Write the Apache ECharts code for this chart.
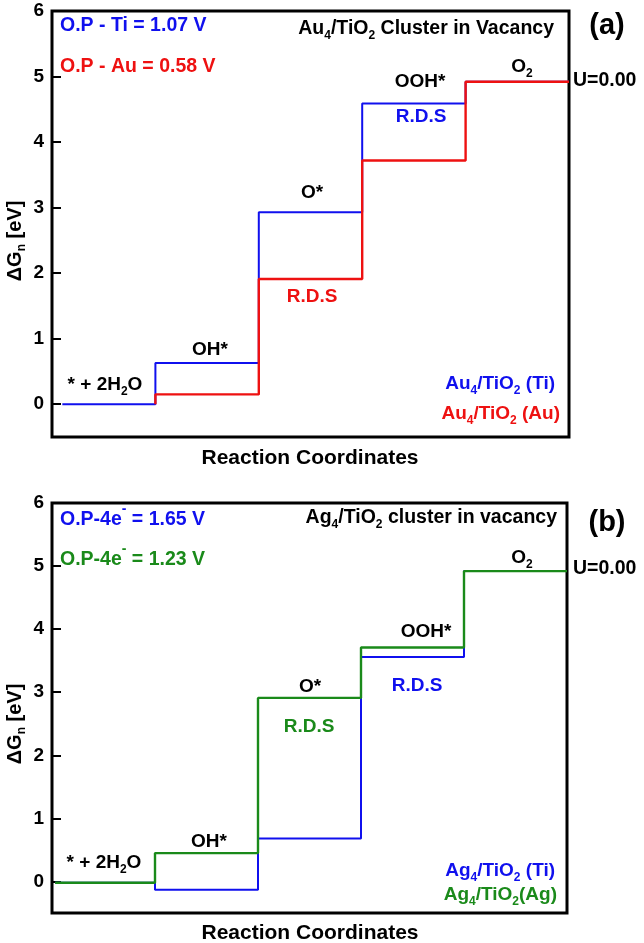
<!DOCTYPE html>
<html><head><meta charset="utf-8">
<script src="https://cdn.jsdelivr.net/npm/echarts@6/dist/echarts.min.js"></script>
<style>html,body{margin:0;padding:0;background:#fff}#c{width:644px;height:943px}</style>
</head><body><div id="c"></div>
<script>
// ---- data ----
const stepBoundsA = [0.1, 1, 2, 3, 4, 5];
const tiLevelsA = [0, 0.63, 2.93, 4.59, 4.92];
const auLevelsA = [0, 0.15, 1.91, 3.72, 4.92];
const stepBoundsB = [0.03, 1, 2, 3, 4, 5];
const tiLevelsB = [-0.02, -0.13, 0.68, 3.56, 4.92];
const agLevelsB = [-0.02, 0.45, 2.91, 3.71, 4.92];
const yTicks = [0, 1, 2, 3, 4, 5, 6];
const yMin = -0.5, yMax = 6;

const F = '"Liberation Sans", Arial, Helvetica, sans-serif';
const BLUE = '#1010EE', RED = '#EE1111', GREEN = '#1A8A1A', BLACK = '#000';

function ladder(bounds, levels, skipFirst) {
  const pts = [];
  levels.forEach((v, i) => {
    if (i === 0 && skipFirst) { pts.push([bounds[1], v]); return; }
    pts.push([bounds[i], v], [bounds[i + 1], v]);
  });
  return pts;
}

function rich(color, size) {
  size = size || 19;
  return {
    n: {fontSize: size, fontWeight: 'bold', fontFamily: F, fill: color, color: color, verticalAlign: 'middle'},
    s: {fontSize: 12, fontWeight: 'bold', fontFamily: F, fill: color, color: color, padding: [13, 0, 0, 0], verticalAlign: 'middle'},
    p: {fontSize: 14, fontWeight: 'bold', fontFamily: F, fill: color, color: color, padding: [0, 0, 22, 0], verticalAlign: 'middle'}
  };
}
function T(x, y, text, color, align, size, rotation) {
  return {
    type: 'text', x: x, y: y, rotation: rotation || 0, z: 100,
    style: {text: text, rich: rich(color, size), fill: color, align: align || 'center', verticalAlign: 'middle',
            fontSize: size || 19, fontWeight: 'bold', fontFamily: F}
  };
}

const texts = [
  // panel (a)
  T(60, 26, '{n|O.P - Ti = 1.07 V}', BLUE, 'left', 19.5),
  T(60, 67, '{n|O.P - Au = 0.58 V}', RED, 'left', 19.5),
  T(554, 29, '{n|Au}{s|4}{n|/TiO}{s|2}{n| Cluster in Vacancy}', BLACK, 'right', 19.5),
  T(607, 26, '{n|(a)}', BLACK, 'center', 29),
  T(573, 81, '{n|U=0.00}', BLACK, 'left', 19.5),
  T(522, 67, '{n|O}{s|2}', BLACK, 'center'),
  T(420, 82, '{n|OOH*}', BLACK, 'center'),
  T(421, 117, '{n|R.D.S}', BLUE, 'center'),
  T(312, 193, '{n|O*}', BLACK, 'center'),
  T(312, 297, '{n|R.D.S}', RED, 'center'),
  T(210, 350, '{n|OH*}', BLACK, 'center'),
  T(105, 385, '{n|* + 2H}{s|2}{n|O}', BLACK, 'center'),
  T(555, 384, '{n|Au}{s|4}{n|/TiO}{s|2}{n| (Ti)}', BLUE, 'right'),
  T(560, 414, '{n|Au}{s|4}{n|/TiO}{s|2}{n| (Au)}', RED, 'right'),
  T(310, 458, '{n|Reaction Coordinates}', BLACK, 'center', 21),
  T(15, 241, '{n|ΔG}{s|n}{n| [eV]}', BLACK, 'center', 20, Math.PI / 2),
  // panel (b)
  T(60, 520, '{n|O.P-4e}{p|-}{n| = 1.65 V}', BLUE, 'left', 19.5),
  T(60, 560, '{n|O.P-4e}{p|-}{n| = 1.23 V}', GREEN, 'left', 19.5),
  T(557, 518, '{n|Ag}{s|4}{n|/TiO}{s|2}{n| cluster in vacancy}', BLACK, 'right', 19.5),
  T(607, 523, '{n|(b)}', BLACK, 'center', 29),
  T(573, 569, '{n|U=0.00}', BLACK, 'left', 19.5),
  T(522, 558, '{n|O}{s|2}', BLACK, 'center'),
  T(426, 632, '{n|OOH*}', BLACK, 'center'),
  T(417, 686, '{n|R.D.S}', BLUE, 'center'),
  T(310, 687, '{n|O*}', BLACK, 'center'),
  T(309, 727, '{n|R.D.S}', GREEN, 'center'),
  T(209, 842, '{n|OH*}', BLACK, 'center'),
  T(104, 863, '{n|* + 2H}{s|2}{n|O}', BLACK, 'center'),
  T(555, 871, '{n|Ag}{s|4}{n|/TiO}{s|2}{n| (Ti)}', BLUE, 'right'),
  T(557, 895, '{n|Ag}{s|4}{n|/TiO}{s|2}{n|(Ag)}', GREEN, 'right'),
  T(310, 933, '{n|Reaction Coordinates}', BLACK, 'center', 21),
  T(15, 724, '{n|ΔG}{s|n}{n| [eV]}', BLACK, 'center', 20, Math.PI / 2)
];

function yAxis(gi) {
  return {
    type: 'value', gridIndex: gi, min: yMin, max: yMax,
    axisLine: {show: false}, splitLine: {show: false},
    axisTick: {show: true, inside: true, length: 9, lineStyle: {color: BLACK, width: 2}, customValues: yTicks},
    axisLabel: {show: true, customValues: yTicks, color: BLACK, fontSize: 19, fontWeight: 'bold', fontFamily: F, margin: 8}
  };
}
function xAxis(gi) {
  return {type: 'value', gridIndex: gi, min: 0, max: 5, show: false};
}
function lineSeries(gi, data, color, z, width) {
  return {
    type: 'line', xAxisIndex: gi, yAxisIndex: gi, data: data, symbol: 'none', showSymbol: false,
    lineStyle: {color: color, width: width || 2}, z: z, animation: false, silent: true
  };
}

const chart = echarts.init(document.getElementById('c'), null, {renderer: 'canvas'});
chart.setOption({
  animation: false,
  backgroundColor: '#fff',
  grid: [
    {left: 52, top: 11, width: 517, height: 426, show: true, borderColor: BLACK, borderWidth: 3, backgroundColor: 'transparent'},
    {left: 52, top: 503, width: 515, height: 410, show: true, borderColor: BLACK, borderWidth: 3, backgroundColor: 'transparent'}
  ],
  xAxis: [xAxis(0), xAxis(1)],
  yAxis: [yAxis(0), yAxis(1)],
  series: [
    lineSeries(0, ladder(stepBoundsA, tiLevelsA, false), BLUE, 2, 2),
    lineSeries(0, ladder(stepBoundsA, auLevelsA, true), RED, 3, 2.4),
    lineSeries(1, ladder(stepBoundsB, tiLevelsB, false), BLUE, 2, 2),
    lineSeries(1, ladder(stepBoundsB, agLevelsB, false), GREEN, 3, 2.4)
  ],
  graphic: texts
});
</script>
</body></html>
